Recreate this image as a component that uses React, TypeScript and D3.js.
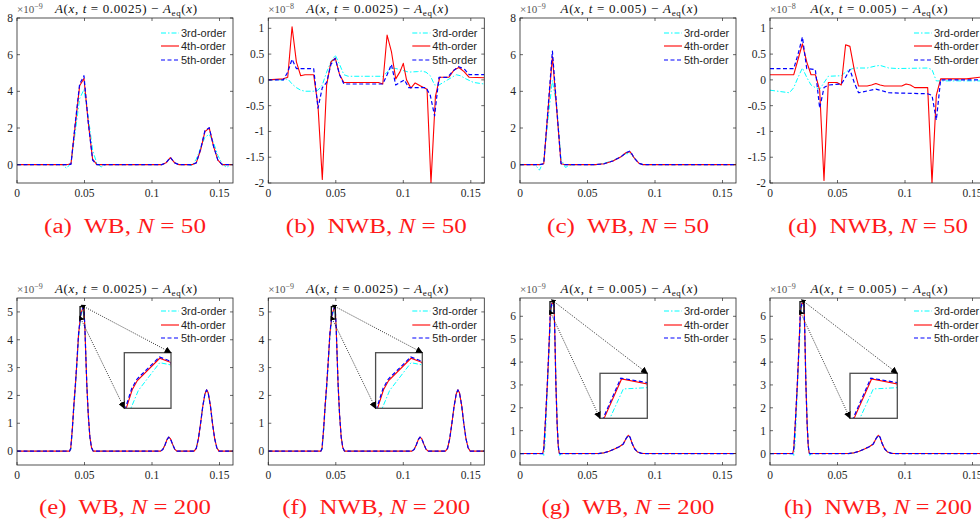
import React from "react";
import * as d3 from "d3";

type Pt = [number, number];

// ---------- tick values ----------
const xTicks = [0, 0.05, 0.1, 0.15];
const xTickLabels = ["0", "0.05", "0.1", "0.15"];
const yTicksWB50 = [0, 2, 4, 6, 8];
const yTicksNWB = [-2, -1.5, -1, -0.5, 0, 0.5, 1];
const yTicksN200a = [0, 1, 2, 3, 4, 5];
const yTicksN200b = [0, 1, 2, 3, 4, 5, 6];
const legendLabels = ["3rd-order", "4th-order", "5th-order"];
const captions = [
  ["(a)  WB, ", "N", " = 50"],
  ["(b)  NWB, ", "N", " = 50"],
  ["(c)  WB, ", "N", " = 50"],
  ["(d)  NWB, ", "N", " = 50"],
  ["(e)  WB, ", "N", " = 200"],
  ["(f)  NWB, ", "N", " = 200"],
  ["(g)  WB, ", "N", " = 200"],
  ["(h)  NWB, ", "N", " = 200"],
];

// ---------- (a) WB, N=50, t=0.0025 (x1e-9) ----------
const a3: Pt[] = [[0,0],[0.0336,0],[0.0368,-0.2],[0.04,0.1],[0.0432,1.8],[0.0464,3.6],[0.0496,4.1],[0.0528,2.6],[0.056,0.8],[0.0592,0.05],[0.0624,-0.12],[0.0656,0],[0.1072,0],[0.1104,0.1],[0.1136,0.35],[0.1168,0.12],[0.12,0],[0.1264,0],[0.1296,-0.05],[0.1328,0.3],[0.136,0.9],[0.1392,1.5],[0.1424,1.65],[0.1456,1.2],[0.1488,0.5],[0.152,0.05],[0.1552,-0.15],[0.1584,0],[0.16,0]];
const a4: Pt[] = [[0,0],[0.0368,0],[0.04,0.05],[0.0432,2.2],[0.0464,4.3],[0.0496,4.7],[0.0528,2.3],[0.056,0.3],[0.0592,0],[0.1072,0],[0.1104,0.1],[0.1136,0.38],[0.1168,0.1],[0.12,0],[0.1296,0],[0.1328,0.1],[0.136,0.8],[0.1392,1.8],[0.1424,2.0],[0.1456,1.0],[0.1488,0.25],[0.152,0],[0.16,0]];
const a5: Pt[] = [[0,0],[0.0368,0],[0.04,0.02],[0.0432,2.3],[0.0464,4.4],[0.0496,4.85],[0.0528,2.3],[0.056,0.25],[0.0592,0],[0.1072,0],[0.1104,0.1],[0.1136,0.4],[0.1168,0.1],[0.12,0],[0.1296,0],[0.1328,0.1],[0.136,0.85],[0.1392,1.85],[0.1424,2.02],[0.1456,1.0],[0.1488,0.25],[0.152,0],[0.16,0]];

// ---------- (b) NWB, N=50, t=0.0025 (x1e-8) ----------
const b3: Pt[] = [[0,0],[0.0112,0],[0.0144,0.02],[0.0176,-0.08],[0.0208,-0.15],[0.024,-0.2],[0.0272,-0.22],[0.0336,-0.22],[0.0368,-0.2],[0.04,-0.1],[0.0432,0.15],[0.0464,0.35],[0.0496,0.48],[0.0528,0.3],[0.056,0.1],[0.0592,0.07],[0.0848,0.07],[0.088,0.15],[0.0912,0.23],[0.0944,0.22],[0.0976,0.2],[0.104,0.15],[0.1104,0.16],[0.1136,0.17],[0.1168,0.15],[0.12,0.08],[0.1232,-0.1],[0.1264,-0.1],[0.1296,-0.05],[0.136,0.05],[0.1392,0.1],[0.1424,0.08],[0.1456,0.03],[0.152,-0.05],[0.16,-0.08]];
const b4: Pt[] = [[0,0],[0.011,0.02],[0.0144,0.05],[0.0176,1.03],[0.0208,0.35],[0.024,0.08],[0.0272,0.1],[0.0336,0.1],[0.0368,-0.5],[0.04,-1.93],[0.0432,-0.1],[0.0464,0.35],[0.0496,0.42],[0.0528,0.1],[0.056,-0.05],[0.0816,-0.05],[0.0848,-0.08],[0.088,0.87],[0.0912,0.55],[0.0944,0.02],[0.0976,0.16],[0.1,0.32],[0.1024,0],[0.1056,-0.16],[0.1088,-0.06],[0.1128,-0.12],[0.1176,-0.18],[0.1205,-2.0],[0.1238,-0.32],[0.127,0.05],[0.1338,0.05],[0.1375,0.19],[0.1412,0.24],[0.145,0.16],[0.1488,0.05],[0.16,0.04]];
const b5: Pt[] = [[0,0],[0.0112,0],[0.0144,0.15],[0.0176,0.4],[0.0208,0.22],[0.024,0.22],[0.0336,0.22],[0.0368,-0.55],[0.04,-0.15],[0.0432,-0.05],[0.0464,0.3],[0.0496,0.42],[0.0528,0.1],[0.056,-0.08],[0.0848,-0.08],[0.088,0.1],[0.0912,0.3],[0.0944,-0.1],[0.0976,-0.05],[0.1008,0.0],[0.104,-0.15],[0.1168,-0.15],[0.12,-0.3],[0.1232,-0.7],[0.1264,0.05],[0.1328,0.05],[0.136,0.15],[0.1408,0.26],[0.1456,0.2],[0.1488,0.1],[0.16,0.1]];

// ---------- (c) WB, N=50, t=0.005 (x1e-9) ----------
const c3: Pt[] = [[0,0],[0.0112,0],[0.0144,-0.3],[0.0176,0.2],[0.0208,2.5],[0.024,4.6],[0.0272,3.2],[0.0304,0.3],[0.0336,-0.15],[0.0368,-0.05],[0.04,0],[0.056,0],[0.0624,0.08],[0.0688,0.22],[0.0752,0.45],[0.0784,0.6],[0.0816,0.6],[0.0848,0.35],[0.088,0.1],[0.0912,0],[0.16,0]];
const c4: Pt[] = [[0,0],[0.0144,0],[0.0176,0.05],[0.0208,3.0],[0.024,5.9],[0.0272,3.0],[0.0304,0.05],[0.0336,0],[0.056,0],[0.0624,0.05],[0.0688,0.2],[0.0752,0.45],[0.0784,0.65],[0.0816,0.7],[0.0848,0.35],[0.088,0.08],[0.0912,0],[0.16,0]];
const c5: Pt[] = [[0,0],[0.0144,0],[0.0176,0.05],[0.0208,3.1],[0.024,6.2],[0.0272,3.1],[0.0304,0.05],[0.0336,0],[0.056,0],[0.0624,0.05],[0.0688,0.2],[0.0752,0.45],[0.0784,0.65],[0.0816,0.75],[0.0848,0.35],[0.088,0.08],[0.0912,0],[0.16,0]];

// ---------- (d) NWB, N=50, t=0.005 (x1e-8) ----------
const d3c: Pt[] = [[0,-0.2],[0.0144,-0.25],[0.0176,-0.15],[0.0208,0.05],[0.024,0.23],[0.0272,0.05],[0.0304,-0.1],[0.0336,-0.15],[0.0368,-0.18],[0.0432,0.07],[0.0528,0.08],[0.056,0.15],[0.0592,0.2],[0.0624,0.23],[0.072,0.23],[0.0784,0.27],[0.0816,0.28],[0.088,0.23],[0.0944,0.22],[0.1168,0.23],[0.12,0.2],[0.1232,-0.02],[0.16,-0.02]];
const d4: Pt[] = [[0,0.1],[0.0176,0.1],[0.0208,0.4],[0.024,0.7],[0.0272,0.35],[0.0304,0.1],[0.0336,0.1],[0.0368,-0.2],[0.04,-1.95],[0.0432,-0.05],[0.0496,-0.05],[0.0528,-0.1],[0.056,0.68],[0.0592,0.65],[0.0624,0.2],[0.0656,-0.12],[0.072,-0.12],[0.0752,-0.1],[0.0784,-0.07],[0.0816,-0.1],[0.0848,-0.12],[0.0976,-0.12],[0.1008,-0.08],[0.104,-0.1],[0.1072,-0.15],[0.1168,-0.15],[0.12,-2.0],[0.1232,-0.3],[0.1264,0.02],[0.1456,0.02],[0.1552,0.05],[0.16,0.05]];
const d5: Pt[] = [[0,0.22],[0.0176,0.22],[0.0208,0.5],[0.024,0.83],[0.0272,0.22],[0.0336,0.2],[0.0368,-0.55],[0.04,-0.15],[0.0432,-0.1],[0.0528,-0.08],[0.056,0.05],[0.0592,0.2],[0.0624,-0.05],[0.0656,-0.25],[0.0784,-0.18],[0.0816,-0.2],[0.088,-0.25],[0.1168,-0.27],[0.12,-0.3],[0.1232,-0.78],[0.1264,0.0],[0.16,0.0]];

// ---------- (e)/(f) N=200, t=0.0025 (x1e-9) ----------
const e3: Pt[] = [[0,0],[0.039,0],[0.0399,0.05],[0.041,0.7],[0.0422,1.55],[0.0433,2.25],[0.0445,3.15],[0.0456,4.05],[0.04711,4.74],[0.04757,4.884],[0.0489,5.109],[0.0496,5.091],[0.0503,4.45],[0.051,3.4],[0.0517,2.4],[0.0528,1.3],[0.054,0.5],[0.0552,0.12],[0.0564,0],[0.1064,0],[0.108,0.06],[0.1096,0.22],[0.1112,0.42],[0.1124,0.49],[0.1136,0.44],[0.1152,0.25],[0.1168,0.07],[0.1184,0],[0.1312,0],[0.1328,0.1],[0.1344,0.45],[0.136,1.0],[0.1376,1.6],[0.1392,2.05],[0.1404,2.18],[0.1416,2.1],[0.1432,1.65],[0.1448,1.0],[0.1464,0.45],[0.148,0.12],[0.1496,0],[0.16,0]];
const e4: Pt[] = [[0,0],[0.039,0],[0.0398,0.1],[0.041,0.8],[0.0422,1.7],[0.0433,2.4],[0.0445,3.3],[0.0456,4.2],[0.04682,4.74],[0.04719,4.89],[0.04751,4.965],[0.0489,5.145],[0.0496,5.11],[0.0503,4.4],[0.051,3.4],[0.0517,2.4],[0.0528,1.3],[0.054,0.5],[0.0552,0.12],[0.0564,0],[0.1064,0],[0.108,0.06],[0.1096,0.22],[0.1112,0.42],[0.1124,0.5],[0.1136,0.45],[0.1152,0.25],[0.1168,0.07],[0.1184,0],[0.1312,0],[0.1328,0.1],[0.1344,0.45],[0.136,1.0],[0.1376,1.6],[0.1392,2.05],[0.1404,2.2],[0.1416,2.1],[0.1432,1.65],[0.1448,1.0],[0.1464,0.45],[0.148,0.12],[0.1496,0],[0.16,0]];
const e5: Pt[] = [[0,0],[0.039,0],[0.0398,0.1],[0.041,0.82],[0.0422,1.72],[0.0433,2.42],[0.0445,3.32],[0.0456,4.22],[0.04678,4.745],[0.04716,4.9],[0.04748,4.975],[0.04888,5.155],[0.0496,5.12],[0.0503,4.4],[0.051,3.4],[0.0517,2.4],[0.0528,1.3],[0.054,0.5],[0.0552,0.12],[0.0564,0],[0.1064,0],[0.108,0.06],[0.1096,0.22],[0.1112,0.42],[0.1124,0.5],[0.1136,0.45],[0.1152,0.25],[0.1168,0.07],[0.1184,0],[0.1312,0],[0.1328,0.1],[0.1344,0.45],[0.136,1.0],[0.1376,1.6],[0.1392,2.05],[0.1404,2.2],[0.1416,2.1],[0.1432,1.65],[0.1448,1.0],[0.1464,0.45],[0.148,0.12],[0.1496,0],[0.16,0]];
const insetDomainE: Pt[] = [[0.0467, 0.0496], [4.74, 5.19]];

// ---------- (g)/(h) N=200, t=0.005 (x1e-9) ----------
const g3: Pt[] = [[0,0],[0.0168,0],[0.0176,-0.08],[0.0186,0.5],[0.02,2.4],[0.0212,4.0],[0.022,5.0],[0.02283,6.13],[0.02368,6.463],[0.0252,6.477],[0.0259,5.2],[0.0267,3.0],[0.0276,1.3],[0.0286,0.25],[0.0295,-0.08],[0.0305,0],[0.058,0],[0.062,0.03],[0.066,0.1],[0.07,0.2],[0.0735,0.3],[0.0765,0.42],[0.0785,0.62],[0.0802,0.76],[0.0815,0.7],[0.083,0.45],[0.085,0.2],[0.087,0.07],[0.09,0.01],[0.093,0],[0.16,0]];
const g4: Pt[] = [[0,0],[0.0168,0],[0.0176,0.2],[0.0189,1.5],[0.0202,2.97],[0.0212,4.3],[0.0219,5.3],[0.02246,6.13],[0.02357,6.576],[0.0252,6.519],[0.0258,5.2],[0.0266,3.0],[0.0275,1.3],[0.0283,0.35],[0.029,0.03],[0.0296,0],[0.058,0],[0.062,0.03],[0.066,0.1],[0.07,0.2],[0.0735,0.3],[0.0765,0.42],[0.0785,0.65],[0.0802,0.8],[0.0815,0.72],[0.083,0.45],[0.085,0.2],[0.087,0.07],[0.09,0.01],[0.093,0],[0.16,0]];
const g5: Pt[] = [[0,0],[0.0168,0],[0.0176,0.2],[0.0189,1.52],[0.0202,3.0],[0.0212,4.33],[0.0219,5.33],[0.0224,6.13],[0.02352,6.585],[0.0252,6.535],[0.0258,5.2],[0.0266,3.0],[0.0275,1.3],[0.0283,0.35],[0.029,0.03],[0.0296,0],[0.058,0],[0.062,0.03],[0.066,0.1],[0.07,0.2],[0.0735,0.3],[0.0765,0.42],[0.0785,0.65],[0.0802,0.8],[0.0815,0.72],[0.083,0.45],[0.085,0.2],[0.087,0.07],[0.09,0.01],[0.093,0],[0.16,0]];
const insetDomainG: Pt[] = [[0.0222, 0.0252], [6.13, 6.64]];

// ---------- styles ----------
const seriesStyle = [
  { color: "#00ffff", dash: "5 2 1.5 2", width: 1 },
  { color: "#ff0000", dash: "", width: 1.1 },
  { color: "#0000ff", dash: "4 2.5", width: 1.2 },
];
const AX = "#262626";
const SERIF = "'Liberation Serif', 'Times New Roman', serif";
const SANS = "'Liberation Sans', Arial, sans-serif";
const W = 216;

interface Inset {
  domain: Pt[];
  box: [number, number, number, number];
}

interface PanelSpec {
  id: string;
  left: number;
  top: number;
  h: number;
  yDomain: [number, number];
  yTicks: number[];
  exp: string;
  tval: string;
  titleW: number;
  series: Pt[][];
  inset?: Inset;
  caption: string[];
  capY: number;
  capW: number;
  legendDy: number[];
}

const lefts = [17, 268.3, 520, 770];
const topRow = { top: 18, h: 165, capY: 233, legendDy: [15, 28, 42] };
const botRow = { top: 298, h: 167, capY: 514, legendDy: [13, 27, 40] };
const capWidths = [162, 181, 162, 180, 172, 188, 173, 188];

const panels: PanelSpec[] = [
  { id: "a", left: lefts[0], ...topRow, yDomain: [-1, 8], yTicks: yTicksWB50, exp: "−9", tval: "0.0025", titleW: 142, series: [a3, a4, a5], caption: captions[0], capW: capWidths[0] },
  { id: "b", left: lefts[1], ...topRow, yDomain: [-2, 1.2], yTicks: yTicksNWB, exp: "−8", tval: "0.0025", titleW: 142, series: [b3, b4, b5], caption: captions[1], capW: capWidths[1] },
  { id: "c", left: lefts[2], ...topRow, yDomain: [-1, 8], yTicks: yTicksWB50, exp: "−9", tval: "0.005", titleW: 137, series: [c3, c4, c5], caption: captions[2], capW: capWidths[2] },
  { id: "d", left: lefts[3], ...topRow, yDomain: [-2, 1.2], yTicks: yTicksNWB, exp: "−8", tval: "0.005", titleW: 137, series: [d3c, d4, d5], caption: captions[3], capW: capWidths[3] },
  { id: "e", left: lefts[0], ...botRow, yDomain: [-0.5, 5.5], yTicks: yTicksN200a, exp: "−9", tval: "0.0025", titleW: 142, series: [e3, e4, e5], inset: { domain: insetDomainE, box: [107.3, 54.7, 46.7, 55.6] }, caption: captions[4], capW: capWidths[4] },
  { id: "f", left: lefts[1], ...botRow, yDomain: [-0.5, 5.5], yTicks: yTicksN200a, exp: "−9", tval: "0.0025", titleW: 142, series: [e3, e4, e5], inset: { domain: insetDomainE, box: [107.3, 54.7, 46.7, 55.6] }, caption: captions[5], capW: capWidths[5] },
  { id: "g", left: lefts[2], ...botRow, yDomain: [-0.5, 6.8], yTicks: yTicksN200b, exp: "−9", tval: "0.005", titleW: 137, series: [g3, g4, g5], inset: { domain: insetDomainG, box: [80, 75.3, 47.3, 45] }, caption: captions[6], capW: capWidths[6] },
  { id: "h", left: lefts[3], ...botRow, yDomain: [-0.5, 6.8], yTicks: yTicksN200b, exp: "−9", tval: "0.005", titleW: 137, series: [g3, g4, g5], inset: { domain: insetDomainG, box: [80, 75.3, 47.3, 45] }, caption: captions[7], capW: capWidths[7] },
];

function Panel({ p }: { p: PanelSpec }) {
  const x = d3.scaleLinear().domain([0, 0.16]).range([p.left, p.left + W]);
  const y = d3.scaleLinear().domain(p.yDomain).range([p.top + p.h, p.top]);
  const line = d3.line<Pt>().x((d) => x(d[0])).y((d) => y(d[1]));
  const right = p.left + W;
  const bottom = p.top + p.h;
  const cx = p.left + W / 2;
  const tl = 3;

  let insetEls: React.ReactNode = null;
  if (p.inset) {
    const [bx, by, bw, bh] = p.inset.box;
    const ix0 = p.left + bx, iy0 = p.top + by;
    const dom = p.inset.domain;
    const ixs = d3.scaleLinear().domain(dom[0]).range([ix0, ix0 + bw]);
    const iys = d3.scaleLinear().domain(dom[1]).range([iy0 + bh, iy0]);
    const iline = d3.line<Pt>().x((d) => ixs(d[0])).y((d) => iys(d[1]));
    const rx0 = x(dom[0][0]), rx1 = x(dom[0][1]);
    const ry0 = y(dom[1][1]), ry1 = y(dom[1][0]);
    insetEls = (
      <g>
        <rect x={rx0} y={ry0} width={rx1 - rx0} height={ry1 - ry0} fill="none" stroke="#111" strokeWidth={1.3} />
        <line x1={rx1} y1={ry0} x2={ix0 + bw} y2={iy0} stroke="#000" strokeWidth={0.8} strokeDasharray="1 1.3" markerStart="url(#arrowS)" />
        <line x1={rx0 + 1} y1={ry1} x2={ix0} y2={iy0 + bh} stroke="#000" strokeWidth={0.8} strokeDasharray="1 1.3" markerStart="url(#arrowS)" />
        <rect x={ix0} y={iy0} width={bw} height={bh} fill="#fff" stroke="none" />
        <clipPath id={`iclip-${p.id}`}>
          <rect x={ix0} y={iy0} width={bw} height={bh} />
        </clipPath>
        <g clipPath={`url(#iclip-${p.id})`}>
          {p.series.map((s, i) => (
            <path key={i} d={iline(s) || ""} fill="none" stroke={seriesStyle[i].color} strokeWidth={seriesStyle[i].width} strokeDasharray={seriesStyle[i].dash || undefined} />
          ))}
        </g>
        <rect x={ix0} y={iy0} width={bw} height={bh} fill="none" stroke="#4d4d4d" strokeWidth={1.3} />
        <line x1={rx1} y1={ry0} x2={ix0 + bw} y2={iy0} stroke="none" markerEnd="url(#arrowE)" />
        <line x1={rx0 + 1} y1={ry1} x2={ix0} y2={iy0 + bh} stroke="none" markerEnd="url(#arrowE)" />
      </g>
    );
  }

  return (
    <g>
      <clipPath id={`clip-${p.id}`}>
        <rect x={p.left} y={p.top} width={W} height={p.h} />
      </clipPath>
      <rect x={p.left} y={p.top} width={W} height={p.h} fill="#fff" />
      <g clipPath={`url(#clip-${p.id})`}>
        {p.series.map((s, i) => (
          <path key={i} d={line(s) || ""} fill="none" stroke={seriesStyle[i].color} strokeWidth={seriesStyle[i].width} strokeDasharray={seriesStyle[i].dash || undefined} strokeLinejoin="round" />
        ))}
      </g>
      <rect x={p.left} y={p.top} width={W} height={p.h} fill="none" stroke={AX} strokeWidth={0.8} />
      {xTicks.map((t, i) => (
        <g key={"x" + i}>
          <line x1={x(t)} x2={x(t)} y1={bottom} y2={bottom - tl} stroke={AX} strokeWidth={0.7} />
          <line x1={x(t)} x2={x(t)} y1={p.top} y2={p.top + tl} stroke={AX} strokeWidth={0.7} />
          <text x={x(t)} y={bottom + 14} textAnchor="middle" fontFamily={SERIF} fontSize={11.5} fill={AX}>{xTickLabels[i]}</text>
        </g>
      ))}
      {p.yTicks.map((t, i) => (
        <g key={"y" + i}>
          <line x1={p.left} x2={p.left + tl} y1={y(t)} y2={y(t)} stroke={AX} strokeWidth={0.7} />
          <line x1={right} x2={right - tl} y1={y(t)} y2={y(t)} stroke={AX} strokeWidth={0.7} />
          <text x={p.left - 4} y={y(t) + 4} textAnchor="end" fontFamily={SERIF} fontSize={11.5} fill={AX}>{String(t)}</text>
        </g>
      ))}
      <text x={p.left} y={p.top - 5} fontFamily={SERIF} fontSize={11} fill="#555">
        ×10<tspan dy={-4} fontSize={8}>{p.exp}</tspan>
      </text>
      <text x={cx - p.titleW / 2 + 1} y={p.top - 5} fontFamily={SERIF} fontSize={13} fill="#111" textLength={p.titleW} lengthAdjust="spacing">
        <tspan fontStyle="italic">A</tspan>(<tspan fontStyle="italic">x</tspan>, <tspan fontStyle="italic">t</tspan> = {p.tval}) − <tspan fontStyle="italic">A</tspan><tspan dy={3} fontSize={9}>eq</tspan><tspan dy={-3}>(</tspan><tspan fontStyle="italic">x</tspan>)
      </text>
      {legendLabels.map((lab, i) => (
        <g key={"l" + i}>
          <line x1={right - 72} x2={right - 54} y1={p.top + p.legendDy[i]} y2={p.top + p.legendDy[i]} stroke={seriesStyle[i].color} strokeWidth={seriesStyle[i].width} strokeDasharray={seriesStyle[i].dash || undefined} />
          <text x={right - 52} y={p.top + p.legendDy[i] + 4} fontFamily={SANS} fontSize={11} fill={AX}>{lab}</text>
        </g>
      ))}
      {insetEls}
      <text x={cx - p.capW / 2} y={p.capY} fontFamily={SERIF} fontSize={20} fill="#ff1a1a" textLength={p.capW} lengthAdjust="spacingAndGlyphs" style={{ whiteSpace: "pre" }}>
        {p.caption[0]}<tspan fontStyle="italic">{p.caption[1]}</tspan>{p.caption[2]}
      </text>
    </g>
  );
}

export default function App() {
  return (
    <div style={{ position: "absolute", left: 0, top: 0, width: 980, height: 523, background: "#fff" }}>
      <svg width={980} height={523} viewBox="0 0 980 523" style={{ display: "block" }}>
        <defs>
          <marker id="arrowS" viewBox="0 0 10 10" refX={2} refY={5} markerWidth={5} markerHeight={5} orient="auto-start-reverse" markerUnits="userSpaceOnUse">
            <path d="M0,0L10,5L0,10z" fill="#000" />
          </marker>
          <marker id="arrowE" viewBox="0 0 10 10" refX={9} refY={5} markerWidth={7} markerHeight={7} orient="auto" markerUnits="userSpaceOnUse">
            <path d="M0,0L10,5L0,10z" fill="#000" />
          </marker>
        </defs>
        <rect width={980} height={523} fill="#fff" />
        {panels.map((p) => (
          <Panel key={p.id} p={p} />
        ))}
      </svg>
    </div>
  );
}
